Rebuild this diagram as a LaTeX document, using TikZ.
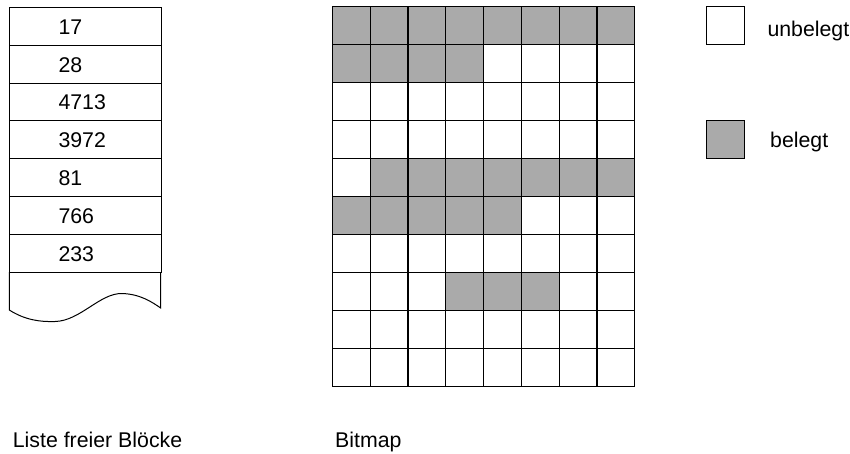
\documentclass[tikz,border=0pt]{standalone}
\usepackage{fontspec}
\setmainfont{Liberation Sans}
\definecolor{occgray}{RGB}{170,170,170}
\begin{document}
\begin{tikzpicture}[x=1pt,y=-1pt,
  every node/.style={font=\fontsize{21.3}{25}\selectfont},
  listrow/.style={draw,line width=1pt,minimum width=151.4pt,minimum height=37.9pt,inner sep=0pt,anchor=north west},
  listtext/.style={anchor=base west,inner sep=0pt},
  cell/.style={draw,line width=1.3pt,minimum width=37.8pt,minimum height=37.97pt,inner sep=0pt,anchor=north west},
  legbox/.style={draw,line width=1pt,minimum width=38.3pt,minimum height=38.3pt,inner sep=0pt,anchor=north west},
  label/.style={anchor=base west,inner sep=0pt}]
\useasboundingbox (0,0) rectangle (850,453);
% list of free blocks
\foreach \v [count=\i from 0] in {17,28,4713,3972,81,766,233}{
  \node[listrow] (row\i) at (9.3,{6.7+\i*37.9}) {};
  \node[listtext] (txt\i) at (58.3,{6.7+\i*37.9+27.4}) {\v};
}
\coordinate (bl) at (9.3,{6.7+7*37.9});
\coordinate (br) at (160.7,{6.7+7*37.9});
\draw[line width=1pt] (bl) -- (9.3,310)
  .. controls (25,320) and (40,322) .. (55,321.5)
  .. controls (80,321) and (100,293) .. (122,293.5)
  .. controls (140,294) and (152,302) .. (160.7,308) -- (br);
% bitmap
\foreach \r/\a/\b in {0/0/7,1/0/3,2/9/9,3/9/9,4/1/7,5/0/4,6/9/9,7/3/5,8/9/9,9/9/9}{
  \foreach \c in {0,...,7}{
    \pgfmathtruncatemacro\f{((\c>=\a)&&(\c<=\b))?1:0}
    \ifnum\f=1 \def\cf{occgray}\else\def\cf{white}\fi
    \node[cell,fill=\cf] (c-\r-\c) at ({331.7+\c*37.8},{6+\r*37.97}) {};
  }
}
% legend
\node[legbox,fill=white] (free) at (706,6) {};
\node[label] (freetxt) at (767.3,36) {unbelegt};
\node[legbox,fill=occgray] (occ) at (706,120) {};
\node[label] (occtxt) at (770,147.7) {belegt};
% captions
\node[label] (cap1) at (12.7,447) {Liste freier Blöcke};
\node[label] (cap2) at (335,447) {Bitmap};
\end{tikzpicture}
\end{document}
